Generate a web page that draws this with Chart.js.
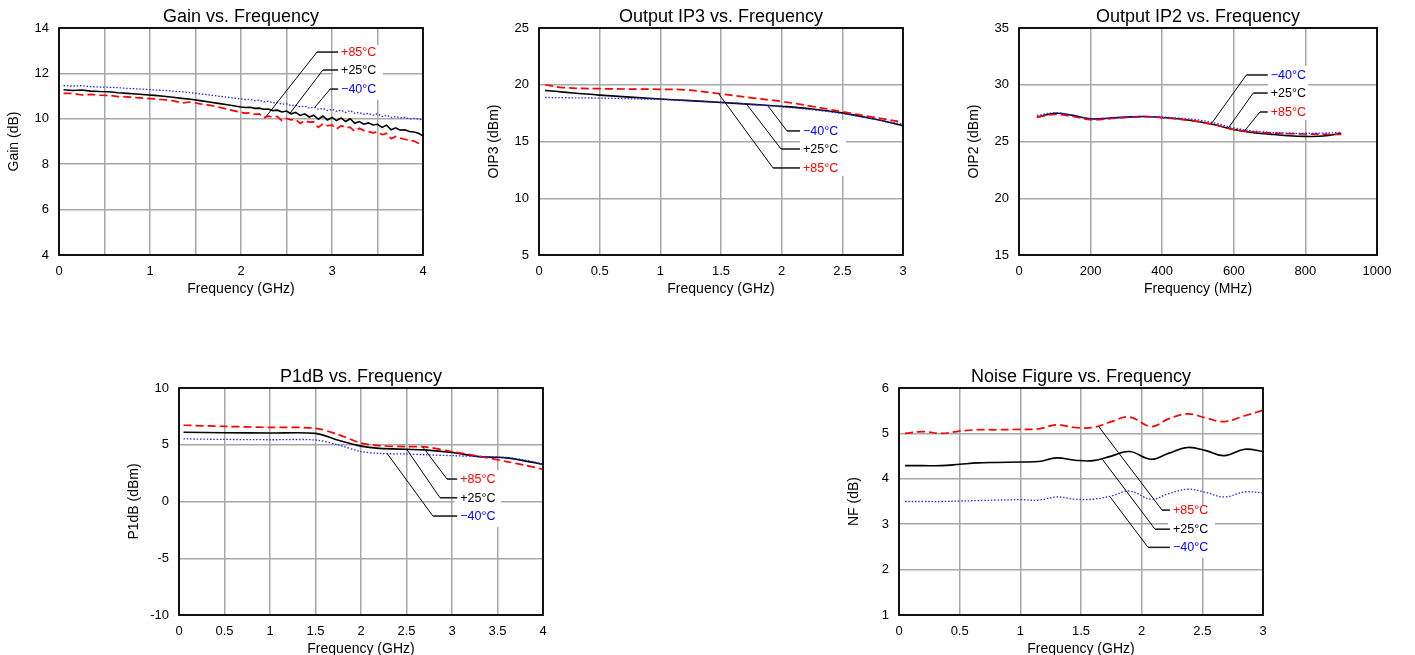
<!DOCTYPE html>
<html>
<head>
<meta charset="utf-8">
<script src="https://cdn.jsdelivr.net/npm/chart.js@4.4.1/dist/chart.umd.min.js"></script>
<style>
  html, body { margin: 0; padding: 0; background: #fff; overflow: hidden; }
  body { width: 1415px; height: 655px; position: relative; }
  canvas { position: absolute; }
</style>
</head>
<body>
<canvas id="gain" width="440" height="300" style="left:0px;top:0px"></canvas>
<canvas id="oip3" width="440" height="300" style="left:480px;top:0px"></canvas>
<canvas id="oip2" width="440" height="300" style="left:960px;top:0px"></canvas>
<canvas id="p1db" width="440" height="300" style="left:120px;top:360px"></canvas>
<canvas id="nf" width="440" height="300" style="left:840px;top:360px"></canvas>
<script>
var FONT = 'Arial, "Liberation Sans", Helvetica, sans-serif';
var tempLabels = ['−40°C', '+25°C', '+85°C'];

// Gain vs. Frequency (GHz / dB)
var gainFreq = [0.05, 0.15, 0.25, 0.35, 0.45, 0.55, 0.65, 0.75, 0.85, 0.95, 1.05, 1.15, 1.25, 1.35, 1.45, 1.55, 1.65, 1.75, 1.85, 1.95,
  2.0, 2.05, 2.1, 2.15, 2.2, 2.25, 2.3, 2.35, 2.4, 2.45, 2.5, 2.55, 2.6, 2.65, 2.7, 2.75, 2.8, 2.85, 2.9, 2.95,
  3.0, 3.05, 3.1, 3.15, 3.2, 3.25, 3.3, 3.35, 3.4, 3.45, 3.5, 3.55, 3.6, 3.65, 3.7, 3.75, 3.8, 3.85, 3.9, 3.95, 4.0];
var gainM40 = [11.46, 11.44, 11.46, 11.42, 11.4, 11.39, 11.37, 11.34, 11.32, 11.3, 11.27, 11.25, 11.22, 11.19, 11.15, 11.1, 11.05, 11.0, 10.95, 10.9,
  10.88, 10.85, 10.86, 10.8, 10.82, 10.75, 10.77, 10.7, 10.72, 10.64, 10.66, 10.58, 10.6, 10.52, 10.56, 10.47, 10.52, 10.42, 10.46, 10.36,
  10.42, 10.33, 10.38, 10.28, 10.36, 10.24, 10.28, 10.2, 10.24, 10.16, 10.22, 10.1, 10.16, 10.06, 10.1, 10.04, 10.06, 10.0, 10.02, 9.98, 9.95];
var gainP25 = [11.28, 11.25, 11.27, 11.22, 11.2, 11.19, 11.15, 11.12, 11.09, 11.06, 11.03, 10.99, 10.95, 10.9, 10.86, 10.8, 10.74, 10.68, 10.62, 10.55,
  10.52, 10.5, 10.51, 10.46, 10.47, 10.42, 10.43, 10.36, 10.38, 10.3, 10.34, 10.22, 10.28, 10.15, 10.22, 10.08, 10.16, 9.98, 10.12, 9.95,
  10.06, 9.92, 10.04, 9.88, 10.0, 9.8, 9.88, 9.76, 9.82, 9.73, 9.76, 9.62, 9.72, 9.52, 9.6, 9.5, 9.52, 9.44, 9.42, 9.36, 9.25];
var gainP85 = [11.12, 11.12, 11.05, 11.08, 11.04, 11.03, 10.98, 10.97, 10.93, 10.9, 10.88, 10.84, 10.8, 10.7, 10.74, 10.66, 10.6, 10.52, 10.42, 10.33,
  10.28, 10.25, 10.26, 10.2, 10.22, 10.05, 10.12, 10.08, 10.1, 9.92, 10.02, 9.95, 9.98, 9.8, 9.92, 9.85, 9.86, 9.62, 9.78, 9.7,
  9.72, 9.55, 9.7, 9.62, 9.62, 9.45, 9.58, 9.48, 9.44, 9.38, 9.42, 9.3, 9.36, 9.12, 9.22, 9.15, 9.1, 9.05, 9.02, 8.92, 8.82];

// Output IP3 vs. Frequency (GHz / dBm)
var oip3Freq = [0.05, 0.2, 0.5, 1.0, 1.2, 1.5, 1.75, 2.0, 2.25, 2.5, 2.75, 3.0];
var oip3M40 = [18.88, 18.86, 18.82, 18.7, 18.62, 18.47, 18.28, 18.05, 17.8, 17.46, 17.0, 16.53];
var oip3P25 = [19.5, 19.35, 19.09, 18.74, 18.62, 18.44, 18.27, 18.1, 17.87, 17.52, 17.0, 16.41];
var oip3P85 = [20.0, 19.75, 19.65, 19.6, 19.55, 19.2, 18.85, 18.53, 18.1, 17.62, 17.15, 16.7];

// Output IP2 vs. Frequency (MHz / dBm)
var oip2Freq = [50, 100, 150, 200, 250, 300, 350, 400, 450, 500, 550, 600, 650, 700, 750, 800, 850, 900];
var oip2M40 = [27.3, 27.52, 27.32, 27.02, 27.06, 27.15, 27.2, 27.15, 27.05, 26.9, 26.6, 26.2, 25.95, 25.8, 25.74, 25.72, 25.74, 25.8];
var oip2P25 = [27.15, 27.48, 27.3, 27.0, 27.05, 27.15, 27.2, 27.12, 26.98, 26.76, 26.45, 26.05, 25.8, 25.65, 25.52, 25.45, 25.48, 25.72];
var oip2P85 = [27.15, 27.38, 27.2, 26.92, 27.0, 27.12, 27.2, 27.1, 26.95, 26.75, 26.45, 26.05, 25.86, 25.76, 25.7, 25.66, 25.64, 25.62];

// P1dB vs. Frequency (GHz / dBm)
var p1dbFreq = [0.05, 0.5, 1.0, 1.5, 1.75, 2.0, 2.2, 2.5, 2.7, 3.0, 3.3, 3.6, 3.8, 4.0];
var p1dbM40 = [5.52, 5.47, 5.44, 5.42, 4.98, 4.4, 4.24, 4.18, 4.12, 4.04, 3.96, 3.88, 3.65, 3.3];
var p1dbP25 = [6.1, 6.06, 6.03, 6.0, 5.4, 4.88, 4.68, 4.6, 4.55, 4.32, 3.95, 3.84, 3.58, 3.28];
var p1dbP85 = [6.72, 6.62, 6.53, 6.45, 5.9, 5.15, 4.92, 4.83, 4.82, 4.4, 3.98, 3.52, 3.2, 2.84];

// Noise Figure vs. Frequency (GHz / dB)
var nfFreq = [0.05, 0.2, 0.35, 0.5, 0.65, 0.8, 1.0, 1.15, 1.3, 1.45, 1.6, 1.75, 1.9, 2.08, 2.22, 2.38, 2.53, 2.68, 2.85, 3.0];
var nfM40 = [3.5, 3.5, 3.5, 3.51, 3.52, 3.53, 3.54, 3.53, 3.6, 3.55, 3.55, 3.62, 3.73, 3.55, 3.67, 3.77, 3.7, 3.6, 3.71, 3.69];
var nfP25 = [4.29, 4.29, 4.29, 4.32, 4.35, 4.36, 4.37, 4.38, 4.46, 4.41, 4.4, 4.5, 4.6, 4.43, 4.56, 4.69, 4.62, 4.51, 4.65, 4.6];
var nfP85 = [5.0, 5.04, 5.0, 5.05, 5.08, 5.08, 5.09, 5.1, 5.19, 5.13, 5.13, 5.26, 5.36, 5.15, 5.32, 5.43, 5.34, 5.26, 5.39, 5.51];

// leader-line labels (data coordinates) and the white patch behind them
var gainNotes = [
  { text: tempLabels[2], color: '#ff0000', at: [2.28, 10.12], elbow: [2.835, 12.94], textX: 3.1 },
  { text: tempLabels[1], color: '#000000', at: [2.53, 10.2], elbow: [2.9, 12.15], textX: 3.1 },
  { text: tempLabels[0], color: '#0000ff', at: [2.81, 10.5], elbow: [2.98, 11.31], textX: 3.1 }
];
var oip3Notes = [
  { text: tempLabels[0], color: '#0000ff', at: [1.89, 18.1], elbow: [2.044, 15.93], textX: 2.176 },
  { text: tempLabels[1], color: '#000000', at: [1.71, 18.3], elbow: [1.995, 14.34], textX: 2.176 },
  { text: tempLabels[2], color: '#ff0000', at: [1.48, 19.22], elbow: [1.929, 12.67], textX: 2.176 }
];
var oip2Notes = [
  { text: tempLabels[0], color: '#0000ff', at: [538, 26.6], elbow: [635, 30.86], textX: 703 },
  { text: tempLabels[1], color: '#000000', at: [585, 26.2], elbow: [654, 29.27], textX: 703 },
  { text: tempLabels[2], color: '#ff0000', at: [629, 25.9], elbow: [673, 27.6], textX: 703 }
];
var p1dbNotes = [
  { text: tempLabels[2], color: '#ff0000', at: [2.68, 4.8], elbow: [2.945, 1.98], textX: 3.09 },
  { text: tempLabels[1], color: '#000000', at: [2.5, 4.62], elbow: [2.868, 0.33], textX: 3.09 },
  { text: tempLabels[0], color: '#0000ff', at: [2.29, 4.2], elbow: [2.79, -1.28], textX: 3.09 }
];
var nfNotes = [
  { text: tempLabels[2], color: '#ff0000', at: [1.643, 5.16], elbow: [2.168, 3.31], textX: 2.258 },
  { text: tempLabels[1], color: '#000000', at: [1.676, 4.43], elbow: [2.11, 2.89], textX: 2.258 },
  { text: tempLabels[0], color: '#0000ff', at: [1.74, 3.6], elbow: [2.052, 2.49], textX: 2.258 }
];

var lineStyles = {
  m40: { borderColor: '#2424ff', borderWidth: 1.3, borderDash: [1.5, 1.8] },
  p25: { borderColor: '#000000', borderWidth: 1.6, borderDash: [] },
  p85: { borderColor: '#ff0000', borderWidth: 1.7, borderDash: [8, 4] }
};

function makeSeries(label, freqs, vals, style, tension) {
  var pts = freqs.map(function (f, i) { return { x: f, y: vals[i] }; });
  return {
    label: label,
    data: pts,
    borderColor: lineStyles[style].borderColor,
    borderWidth: lineStyles[style].borderWidth,
    borderDash: lineStyles[style].borderDash,
    pointRadius: 0,
    fill: false,
    tension: tension
  };
}

// title, frame, white label patch and leader lines
function decorPlugin(title, notes, box) {
  return {
    id: 'decor',
    beforeDatasetsDraw: function (chart) {
      var c = chart.ctx, xs = chart.scales.x, ys = chart.scales.y;
      var x1 = xs.getPixelForValue(box[0]), x2 = xs.getPixelForValue(box[1]);
      var y1 = ys.getPixelForValue(box[2]), y2 = ys.getPixelForValue(box[3]);
      c.save();
      c.fillStyle = '#ffffff';
      c.fillRect(x1, y1, x2 - x1, y2 - y1);
      c.restore();
    },
    afterDatasetsDraw: function (chart) {
      var c = chart.ctx, xs = chart.scales.x, ys = chart.scales.y, a = chart.chartArea;
      c.save();
      notes.forEach(function (n) {
        var ex = xs.getPixelForValue(n.elbow[0]), ey = ys.getPixelForValue(n.elbow[1]);
        var tx = xs.getPixelForValue(n.textX);
        c.strokeStyle = '#000';
        c.setLineDash([]);
        c.lineWidth = 1;
        c.beginPath();
        c.moveTo(xs.getPixelForValue(n.at[0]), ys.getPixelForValue(n.at[1]));
        c.lineTo(ex, ey);
        c.stroke();
        c.lineWidth = 1.6;
        c.strokeStyle = '#222';
        c.beginPath();
        c.moveTo(ex, ey);
        c.lineTo(tx - 3, ey);
        c.stroke();
        c.fillStyle = n.color;
        c.font = '12.5px ' + FONT;
        c.textAlign = 'left';
        c.textBaseline = 'middle';
        c.fillText(n.text, tx, ey + 0.5);
      });
      // plot frame
      c.strokeStyle = '#000';
      c.lineWidth = 1.8;
      c.strokeRect(a.left, a.top, a.right - a.left, a.bottom - a.top);
      // chart title centred over the plot
      c.fillStyle = '#000';
      c.font = '18px ' + FONT;
      c.textAlign = 'center';
      c.textBaseline = 'middle';
      c.fillText(title, (a.left + a.right) / 2, a.top - 11);
      c.restore();
    }
  };
}

function buildChart(canvasId, s) {
  var ctx = document.getElementById(canvasId).getContext('2d');
  return new Chart(ctx, {
    type: 'line',
    data: {
      datasets: [
        makeSeries(tempLabels[0], s.freq, s.m40, 'm40', s.tension),
        makeSeries(tempLabels[2], s.freq, s.p85, 'p85', s.tension),
        makeSeries(tempLabels[1], s.freq, s.p25, 'p25', s.tension)
      ]
    },
    options: {
      responsive: false,
      animation: false,
      layout: { padding: { left: 6, right: 17, top: 28, bottom: 2 } },
      plugins: { legend: { display: false }, tooltip: { enabled: false } },
      scales: {
        x: {
          type: 'linear',
          min: s.xMin, max: s.xMax,
          afterFit: function (sc) { sc.height = 43; },
          ticks: {
            stepSize: s.xStep, autoSkip: false, maxRotation: 0, padding: 8.5,
            color: '#000', font: { size: 13, family: FONT },
            callback: s.xTick || function (v) { return String(v); }
          },
          grid: { color: '#a8a8a8', lineWidth: 1.5, drawTicks: false },
          border: { display: false },
          title: { display: true, text: s.xTitle, color: '#000', padding: 0, font: { size: 14, family: FONT } }
        },
        y: {
          min: s.yMin, max: s.yMax,
          afterFit: function (sc) { sc.width = 53; },
          ticks: {
            stepSize: s.yStep, padding: 10,
            color: '#000', font: { size: 13, family: FONT },
            callback: function (v) { return String(v); }
          },
          grid: { color: '#a8a8a8', lineWidth: 1.5, drawTicks: false },
          border: { display: false },
          title: { display: true, text: s.yTitle, color: '#000', padding: 0, font: { size: 14, family: FONT } }
        }
      }
    },
    plugins: [decorPlugin(s.title, s.notes, s.box)]
  });
}

buildChart('gain', {
  title: 'Gain vs. Frequency', xTitle: 'Frequency (GHz)', yTitle: 'Gain (dB)',
  freq: gainFreq, m40: gainM40, p25: gainP25, p85: gainP85, tension: 0,
  xMin: 0, xMax: 4, xStep: 0.5, yMin: 4, yMax: 14, yStep: 2,
  xTick: function (v) { return Number.isInteger(v) ? String(v) : ''; },
  notes: gainNotes, box: [3.01, 3.56, 13.25, 10.83]
});
buildChart('oip3', {
  title: 'Output IP3 vs. Frequency', xTitle: 'Frequency (GHz)', yTitle: 'OIP3 (dBm)',
  freq: oip3Freq, m40: oip3M40, p25: oip3P25, p85: oip3P85, tension: 0.4,
  xMin: 0, xMax: 3, xStep: 0.5, yMin: 5, yMax: 25, yStep: 5,
  notes: oip3Notes, box: [2.15, 2.53, 16.89, 11.96]
});
buildChart('oip2', {
  title: 'Output IP2 vs. Frequency', xTitle: 'Frequency (MHz)', yTitle: 'OIP2 (dBm)',
  freq: oip2Freq, m40: oip2M40, p25: oip2P25, p85: oip2P85, tension: 0.4,
  xMin: 0, xMax: 1000, xStep: 200, yMin: 15, yMax: 35, yStep: 5,
  notes: oip2Notes, box: [695, 808, 31.65, 26.89]
});
buildChart('p1db', {
  title: 'P1dB vs. Frequency', xTitle: 'Frequency (GHz)', yTitle: 'P1dB (dBm)',
  freq: p1dbFreq, m40: p1dbM40, p25: p1dbP25, p85: p1dbP85, tension: 0.3,
  xMin: 0, xMax: 4, xStep: 0.5, yMin: -10, yMax: 10, yStep: 5,
  notes: p1dbNotes, box: [3.03, 3.54, 2.78, -2.25]
});
buildChart('nf', {
  title: 'Noise Figure vs. Frequency', xTitle: 'Frequency (GHz)', yTitle: 'NF (dB)',
  freq: nfFreq, m40: nfM40, p25: nfP25, p85: nfP85, tension: 0.4,
  xMin: 0, xMax: 3, xStep: 0.5, yMin: 1, yMax: 6, yStep: 1,
  notes: nfNotes, box: [2.217, 2.604, 3.42, 2.26]
});
</script>
</body>
</html>
